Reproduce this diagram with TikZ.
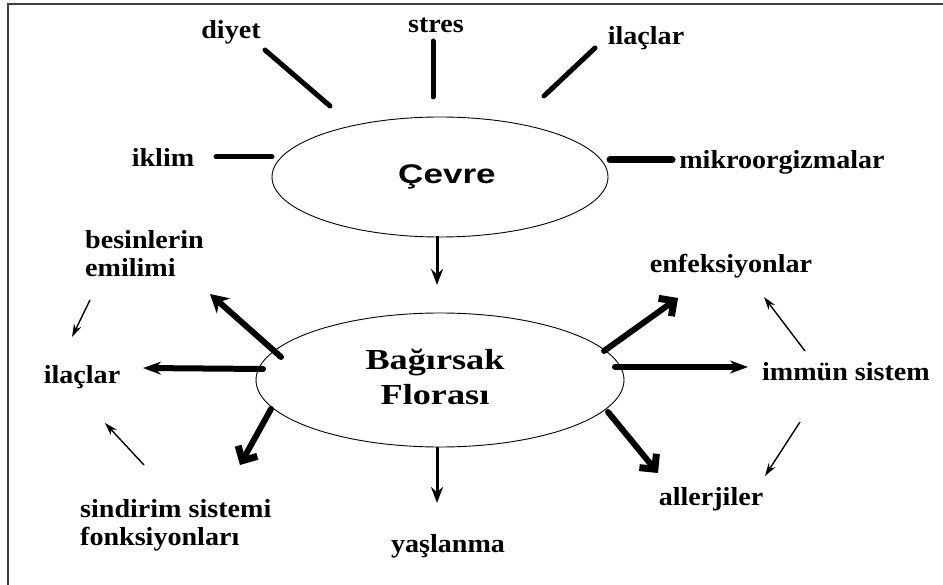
\documentclass[tikz,border=0pt]{standalone}
\usepackage{fontspec}
\usepackage{graphicx}
\setmainfont{Liberation Serif}
\newfontfamily\sansbold{Liberation Sans}
\usetikzlibrary{shapes.geometric,arrows.meta}
\newcommand\stx[1]{\scalebox{1.08}[1]{#1}}
\begin{document}
\begin{tikzpicture}[x=1pt,y=-1pt,
  lab/.style={font=\bfseries\fontsize{26}{28}\selectfont, inner sep=0pt},
  oval/.style={draw, ellipse, line width=0.9pt, inner sep=0pt},
  spoke/.style={line width=5pt, line cap=round},
  bigarrow/.style={line width=6pt, -{Stealth[length=18pt,width=20pt]}},
  barbarrow/.style={line width=6pt, -{Straight Barb[length=11pt,width=22pt,line width=7pt]}},
  midarrow/.style={line width=3pt, -{Stealth[length=16pt,width=12pt]}},
  thinarrow/.style={line width=1.4pt, -{Stealth[length=13pt,width=8pt]}}
]
\useasboundingbox (0,0) rectangle (943,585);
% frame
\draw[line width=2pt, black!75] (943,4) -- (8,4) -- (8,585);

% ellipses
\node[oval, minimum width=336pt, minimum height=120pt] (cev) at (440,177)
  {\hspace*{14pt}{\sansbold\bfseries\fontsize{27}{30}\selectfont\scalebox{1.3}[1]{Çevre}}};
\node[oval, minimum width=368pt, minimum height=134pt, align=center] (bag) at (440,380)
  {\scalebox{1.25}[1]{\bfseries\fontsize{29}{35}\selectfont
   \begin{tabular}{@{}c@{}}Bağırsak\\Florası\end{tabular}}\hspace*{10pt}};

% labels
\node[lab] (diyet) at (231,32) {\stx{diyet}};
\node[lab] (stres) at (436,25) {\stx{stres}};
\node[lab] (ilac1) at (646,38) {\stx{ilaçlar}};
\node[lab] (iklim) at (163,157) {\stx{iklim}};
\node[lab] (mikro) at (782,162) {\stx{mikroorgizmalar}};
\node[lab, anchor=west] (besin) at (85,257)
  {\stx{\begin{tabular}{@{}l@{}}besinlerin\\emilimi\end{tabular}}};
\node[lab] (enf) at (731,266) {\stx{enfeksiyonlar}};
\node[lab] (ilac2) at (82,377) {\stx{ilaçlar}};
\node[lab] (immun) at (846,372) {\stx{immün sistem}};
\node[lab, anchor=west] (sind) at (80,526)
  {\stx{\begin{tabular}{@{}l@{}}sindirim sistemi\\fonksiyonları\end{tabular}}};
\node[lab] (yasl) at (448,546) {\stx{yaşlanma}};
\node[lab] (aller) at (711,499) {\stx{allerjiler}};

% spoke end points
\coordinate (d1) at (265,50);  \coordinate (d2) at (330,106);
\coordinate (s1) at (433,41);  \coordinate (s2) at (433,97);
\coordinate (i1) at (595,48);  \coordinate (i2) at (544,96);
\coordinate (k1) at (216,157); \coordinate (k2) at (272,157);
\coordinate (m1) at (610,160); \coordinate (m2) at (672,160);
\draw[spoke] (d1) -- (d2);
\draw[spoke] (s1) -- (s2);
\draw[spoke] (i1) -- (i2);
\draw[spoke] (k1) -- (k2);
\draw[spoke, line width=7pt] (m1) -- (m2);

% Çevre -> Bağırsak
\coordinate (c1) at (437,236); \coordinate (c2) at (437,285);
\draw[midarrow] (c1) -- (c2);

% outgoing arrows
\coordinate (b1s) at (281,357); \coordinate (b1e) at (210,294);
\coordinate (b2s) at (263,369); \coordinate (b2e) at (143,368);
\coordinate (b3s) at (271,409); \coordinate (b3e) at (240,465);
\coordinate (b4s) at (437,447); \coordinate (b4e) at (437,503);
\coordinate (b5s) at (608,412); \coordinate (b5e) at (658,473);
\coordinate (b6s) at (615,367); \coordinate (b6e) at (748,367);
\coordinate (b7s) at (604,351); \coordinate (b7e) at (678,298);
\draw[bigarrow, line cap=round] (b1s) -- (b1e);
\draw[line width=6pt, line cap=round, -{Stealth[length=18pt,width=13pt]}] (b2s) -- (b2e);
\draw[barbarrow, line cap=round] (b3s) -- (b3e);
\draw[midarrow] (b4s) -- (b4e);
\draw[barbarrow, line cap=round] (b5s) -- (b5e);
\draw[line width=6pt, line cap=round, -{Stealth[length=18pt,width=13pt]}] (b6s) -- (b6e);
\draw[barbarrow, line cap=round] (b7s) -- (b7e);

% thin cycle arrows
\coordinate (t1s) at (90,300);  \coordinate (t1e) at (72,337);
\coordinate (t2s) at (144,465); \coordinate (t2e) at (105,423);
\coordinate (t3s) at (805,351); \coordinate (t3e) at (764,297);
\coordinate (t4s) at (800,422); \coordinate (t4e) at (765,476);
\draw[thinarrow] (t1s) -- (t1e);
\draw[thinarrow] (t2s) -- (t2e);
\draw[thinarrow] (t3s) -- (t3e);
\draw[thinarrow] (t4s) -- (t4e);
\end{tikzpicture}
\end{document}
